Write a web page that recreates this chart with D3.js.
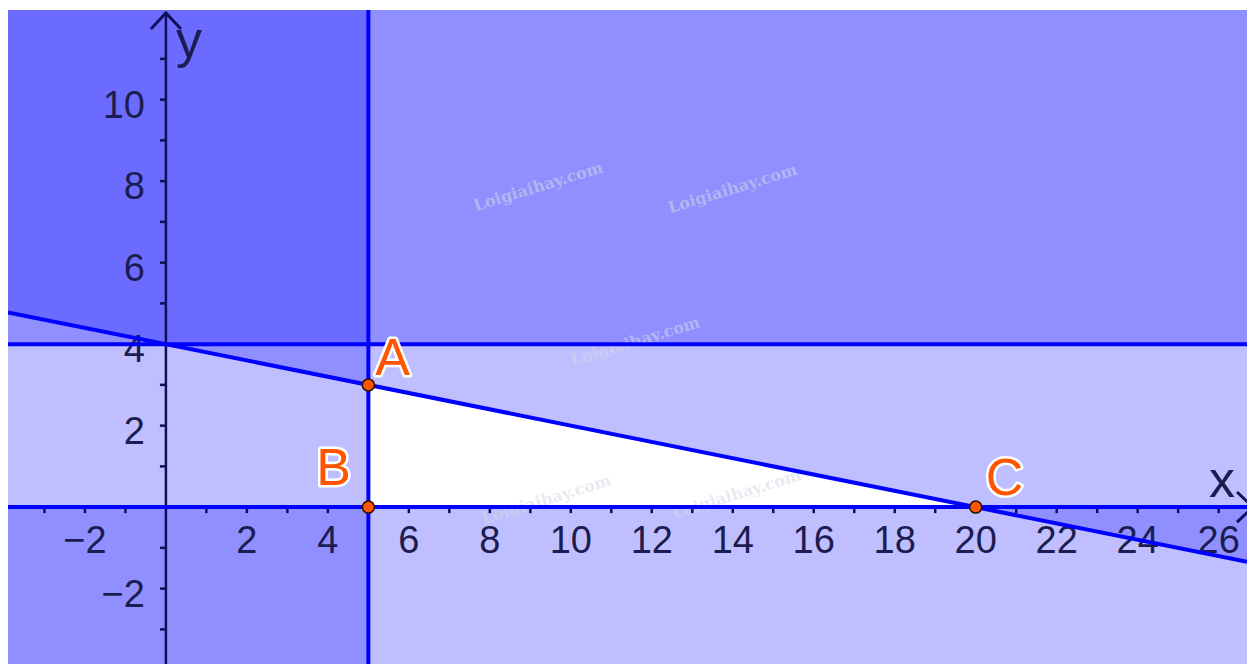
<!DOCTYPE html>
<html>
<head>
<meta charset="utf-8">
<script src="https://cdn.jsdelivr.net/npm/d3@7"></script>
<style>
  html, body { margin: 0; padding: 0; background: #fff; }
  svg { display: block; font-family: "Liberation Sans", Arial, sans-serif; }
</style>
</head>
<body>
<svg id="chart" width="1247" height="664"></svg>
<script>

// viewing window (math units)
const xDomain = [-3.9, 26.7];
const yDomain = [-3.85, 12.2];

// constraint lines a*x + b*y = c ; "bad" = side that gets shaded
const lines = [
    { a: 1, b: 0, c: 5,  bad: "<" },   // x = 5      (x >= 5)
    { a: 0, b: 1, c: 0,  bad: "<" },   // y = 0      (y >= 0)
    { a: 1, b: 5, c: 20, bad: ">" },   // x + 5y = 20
    { a: 0, b: 1, c: 4,  bad: ">" }    // y = 4
];

const points = [
    { name: "A", x: 5,  y: 3 },
    { name: "B", x: 5,  y: 0 },
    { name: "C", x: 20, y: 0 }
];

const xMinorTicks = d3.range(-3, 27).filter(d => d !== 0);
const xTickLabels = [-2, 2, 4, 6, 8, 10, 12, 14, 16, 18, 20, 22, 24, 26];
const yMinorTicks = d3.range(-3, 12).filter(d => d !== 0);
const yTickLabels = [-2, 2, 4, 6, 8, 10];

const watermarks = [
    { x: 9.2, y: 7.85 }, { x: 14.0, y: 7.8 }, { x: 11.6, y: 4.05 },
    { x: 9.4, y: 0.17 }, { x: 14.1, y: 0.3 }
];

// label offsets in px (style, not data)
const labelOffset = { A: [7, -10], B: [-52, -22], C: [10, -12] };

const W = 1247, H = 664;
const x = d3.scaleLinear().domain(xDomain).range([8, W]);
const y = d3.scaleLinear().domain(yDomain).range([H, 10]);

const svg = d3.select("#chart");
const minus = d => d < 0 ? "\u2212" + Math.abs(d) : String(d);

svg.append("defs").append("clipPath").attr("id", "plot")
  .append("rect").attr("x", 8).attr("y", 10).attr("width", W - 8).attr("height", H - 10);

const plot = svg.append("g").attr("clip-path", "url(#plot)");

// half-plane polygon for the shaded side of a line
function halfPlane(l) {
    const [x0, x1] = xDomain, [y0, y1] = yDomain;
    const corners = [[x0, y0], [x1, y0], [x1, y1], [x0, y1]];
    const f = p => l.a * p[0] + l.b * p[1] - l.c;
    const keep = p => l.bad === "<" ? f(p) <= 0 : f(p) >= 0;
    const out = [];
    for (let i = 0; i < 4; i++) {
        const p = corners[i], q = corners[(i + 1) % 4];
        if (keep(p)) out.push(p);
        if ((f(p) < 0) !== (f(q) < 0) && f(p) !== 0 && f(q) !== 0) {
            const t = f(p) / (f(p) - f(q));
            out.push([p[0] + t * (q[0] - p[0]), p[1] + t * (q[1] - p[1])]);
        }
    }
    return out;
}

plot.append("rect").attr("x", 8).attr("y", 10).attr("width", W).attr("height", H)
    .attr("fill", "#fff");

plot.selectAll("path.shade").data(lines).join("path")
    .attr("class", "shade")
    .attr("d", d => "M" + halfPlane(d).map(p => [x(p[0]), y(p[1])].join(",")).join("L") + "Z")
    .attr("fill", "#0000ff")
    .attr("fill-opacity", 0.25);

// watermarks
plot.selectAll("text.wm").data(watermarks).join("text")
    .attr("class", "wm")
    .attr("transform", d => `translate(${x(d.x)},${y(d.y)}) rotate(-17)`)
    .attr("text-anchor", "middle")
    .attr("dominant-baseline", "middle")
    .attr("font-family", "'DejaVu Serif', serif")
    .attr("font-weight", "bold")
    .attr("font-size", 16)
    .attr("fill", "#d6d6e6")
    .attr("fill-opacity", 0.55)
    .text("Loigiaihay.com");

const axisColor = "#10105a", textColor = "#1c1c50";

// x axis
const gx = plot.append("g").attr("transform", `translate(0,${y(0)})`);
gx.append("line").attr("x1", 8).attr("x2", W).attr("stroke", axisColor).attr("stroke-width", 2);
gx.selectAll("line.tk").data(xMinorTicks).join("line")
    .attr("class", "tk")
    .attr("x1", d => x(d)).attr("x2", d => x(d))
    .attr("y1", 0).attr("y2", 6)
    .attr("stroke", axisColor).attr("stroke-width", 2.5);
gx.selectAll("text").data(xTickLabels).join("text")
    .attr("x", d => x(d)).attr("y", 46)
    .attr("text-anchor", "middle")
    .attr("font-size", 38)
    .attr("fill", textColor)
    .text(minus);

// y axis
const gy = plot.append("g").attr("transform", `translate(${x(0)},0)`);
gy.append("line").attr("y1", 13).attr("y2", H).attr("stroke", axisColor).attr("stroke-width", 2.5);
gy.selectAll("line.tk").data(yMinorTicks).join("line")
    .attr("class", "tk")
    .attr("y1", d => y(d)).attr("y2", d => y(d))
    .attr("x1", 0).attr("x2", -6)
    .attr("stroke", axisColor).attr("stroke-width", 2.5);
gy.selectAll("text").data(yTickLabels).join("text")
    .attr("x", -21).attr("y", d => y(d) + 18)
    .attr("text-anchor", "end")
    .attr("font-size", 38)
    .attr("fill", textColor)
    .text(minus);

// arrows
plot.append("path")
    .attr("d", `M${x(0) - 15},${29} L${x(0)},${13} L${x(0) + 15},${29}`)
    .attr("fill", "none").attr("stroke", axisColor).attr("stroke-width", 3);
plot.append("path")
    .attr("d", `M${1237},${492} L${1253},${y(0)} L${1237},${y(0) + 15}`)
    .attr("fill", "none").attr("stroke", axisColor).attr("stroke-width", 3);

plot.append("text").attr("x", x(0) + 10).attr("y", 57)
    .attr("font-size", 52).attr("fill", textColor).text("y");
plot.append("text").attr("x", 1209).attr("y", 497)
    .attr("font-size", 52).attr("fill", textColor).text("x");

// constraint lines
function segment(l) {
    if (l.b === 0) return [[l.c / l.a, yDomain[0]], [l.c / l.a, yDomain[1]]];
    return xDomain.map(xx => [xx, (l.c - l.a * xx) / l.b]);
}
plot.selectAll("line.con").data(lines).join("line")
    .attr("class", "con")
    .attr("x1", d => x(segment(d)[0][0])).attr("y1", d => y(segment(d)[0][1]))
    .attr("x2", d => x(segment(d)[1][0])).attr("y2", d => y(segment(d)[1][1]))
    .attr("stroke", "#0000ff").attr("stroke-width", 4);

// points
plot.selectAll("circle.pt").data(points).join("circle")
    .attr("class", "pt")
    .attr("cx", d => x(d.x)).attr("cy", d => y(d.y))
    .attr("r", 6)
    .attr("fill", "#ff5500")
    .attr("stroke", "#2a1200").attr("stroke-width", 1.5);

plot.selectAll("text.pl").data(points).join("text")
    .attr("class", "pl")
    .attr("x", d => x(d.x) + labelOffset[d.name][0])
    .attr("y", d => y(d.y) + labelOffset[d.name][1])
    .attr("font-size", 52)
    .attr("fill", "#ff5500")
    .attr("stroke", "#fff").attr("stroke-width", 5)
    .attr("paint-order", "stroke")
    .attr("stroke-linejoin", "round")
    .text(d => d.name);

</script>
</body>
</html>
